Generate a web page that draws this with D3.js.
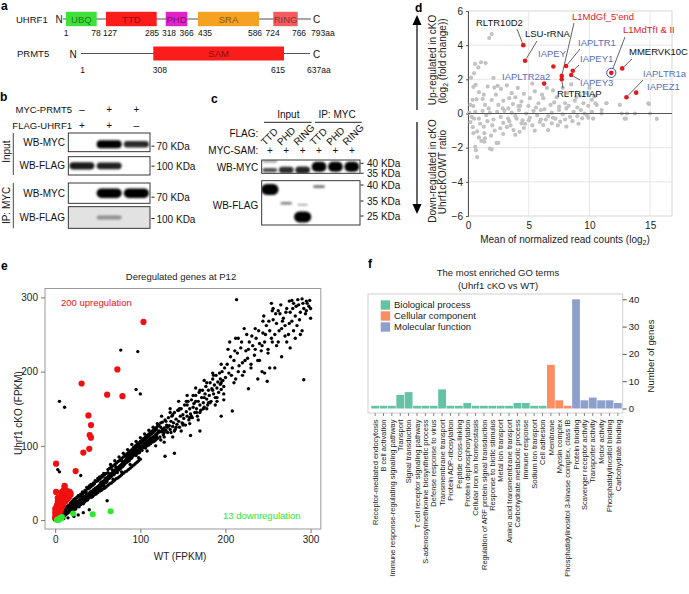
<!DOCTYPE html>
<html><head><meta charset="utf-8">
<script src="https://cdn.jsdelivr.net/npm/d3@7"></script>
<style>body{margin:0;background:#fff}</style>
</head><body>
<script>
// ---------------- DATA ----------------
// Panel a
const uhrf1Names = ["UBQ","TTD","PHD","SRA","RING"];
const uhrf1Start = [1,127,318,435,724];
const uhrf1End = [78,285,366,586,766];
const uhrf1Length = 793;
const uhrf1Ticks = [1,78,127,285,318,366,435,586,724,766,793];
const prmt5Names = ["SAM"];
const prmt5Start = [308];
const prmt5End = [615];
const prmt5Length = 637;
const prmt5Ticks = [1,308,615,637];

// Panel b
const bMycPRMT5 = ["\u2013","+","+"];
const bFlagUHRF1 = ["+","+","\u2013"];
const bBlots = ["WB-MYC","WB-FLAG","WB-MYC","WB-FLAG"];
const bMarkers = ["70 KDa","100 KDa","70 KDa","100 KDa"];
const bBand = [[0,1,0.75],[0.85,0.8,0],[0,1,1],[0,0.35,0]];

// Panel c
const cFlag = ["TTD","PHD","RING","TTD","PHD","RING"];
const cMycSam = ["+","+","+","+","+","+"];
const cMarkersMyc = [40,35];
const cMarkersFlag = [40,35,25];
const cMycBands = [[0,36.6,0.55],[0,41,0.2],[1,36.6,0.75],[2,36.6,0.8],[3,38.3,1],[4,38.3,1],[5,38.3,1]];
const cFlagBands = [[0,38.6,1],[1,33.5,0.3],[2,24.4,1],[2,32.5,0.15],[3,39.5,0.35]];

// Panel d
const dGrey = [[1.95,4.65],[1.75,4.42],[1.07,3.0],[0.58,2.9],[1.45,2.95],[0.85,2.7],[0.5,2.35],[0.25,2.1],[2.1,2.08],[0.63,1.68],[0.44,1.55],[1.62,1.58],[2.17,1.52],[2.45,1.62],[2.72,1.44],[0.38,0.8],[0.71,0.83],[1.21,0.85],[1.95,0.79],[2.91,0.74],[3.6,1.19],[2.86,0.3],[3.32,0.3],[4.15,0.44],[1.4,0.5],[4.97,0.44],[0.44,0.44],
[0.9,1.25],[1.3,1.1],[3.2,1.65],[4.1,1.5],[3.9,0.95],[4.6,1.15],[5.5,1.3],[6.2,0.9],[6.5,1.5],[5.3,1.75],[7.0,1.35],[7.3,0.95],[7.8,1.5],[8.2,1.2],[8.8,0.75],[9.2,1.05],[9.5,0.6],[6.8,0.5],[5.8,0.6],[10.2,0.8],[10.5,0.6],[11.4,0.6],[14.9,0.55],[9.9,0.45],[8.5,1.7],[7.5,0.4],[6.0,0.2],[5.1,0.9],[4.4,0.7],[3.7,0.55],[2.3,1.1],[1.7,0.3],[0.2,0.5],[10.0,1.5],[9.0,0.35],[8.0,0.6],[11.0,0.2],
[0.1,0.05],[0.3,-0.2],[0.6,0.1],[0.9,-0.3],[1.2,0.15],[1.5,-0.1],[1.8,0.05],[2.1,-0.35],[2.4,0.1],[2.7,-0.2],[3.0,0.15],[3.3,-0.3],[3.6,0.05],[3.9,-0.15],[4.2,0.2],[4.5,-0.4],[4.8,0.0],[5.1,-0.25],[5.4,0.15],[5.7,-0.1],[6.0,-0.35],[6.3,0.25],[6.6,-0.15],[6.9,0.05],[7.2,-0.3],[7.5,0.2],[7.8,-0.05],[8.1,0.3],[8.4,-0.2],[8.7,0.1],[9.0,-0.15],[9.3,0.2],[9.6,0.0],[9.9,-0.25],[10.2,0.1],
[0.45,-1.15],[0.75,-1.05],[0.6,-1.95],[0.65,-2.15],[0.75,-2.55],[1.3,-0.77],[1.35,-1.15],[1.4,-1.45],[1.35,-1.65],[1.8,-2.05],[1.95,-2.1],[2.35,-1.72],[2.5,-1.72],[2.65,-0.87],[3.2,-0.8],[3.75,-0.97],[3.9,-1.25],[4.25,-1.07],[4.4,-0.58],[6.2,-0.68],[6.6,-0.97],[6.9,-0.58],[8.1,-0.77],[7.6,-0.48],[9.4,-0.28],[9.8,-0.1],[10.3,-0.3],
[12.66,0],[13.1,0],[13.75,0],[15.0,0],[15.55,-0.32],[12.9,-0.3],[14.85,0.6],[10.6,0.5],[11.0,0],[11.4,0.6],
[0.2,-0.5],[1.0,-0.6],[1.6,-0.45],[2.0,-0.7],[2.9,-0.55],[3.4,-0.45],[4.0,-0.3],[4.7,-0.6],[5.0,-0.4],[5.3,-0.7],[5.9,-0.5],[6.4,-0.35],[7.0,-0.25],[7.4,-0.7],[8.0,-0.35],[8.6,-0.45],[9.1,-0.6],[0.4,-0.8],[1.9,-1.3],[2.2,-1.0],[2.9,-1.2],[3.5,-0.7],[4.6,-0.85],[5.5,-1.0],[0.9,-1.4],[1.1,-1.6],[0.5,-0.3],
[4.3,0.45],[5.6,0.35],[7.1,0.65],[8.3,0.45],[8.9,0.95],[9.7,1.2],[10.4,1.0],[6.1,1.1],[3.4,0.9],[2.5,0.5],[12.5,0.5],[13.0,-0.3]];
const hlNames = ["RLTR10D2","LSU-rRNA","IAPEY","IAPLTR2a2","L1MdGf_5'end","RLTR1IAP","IAPLTR1","IAPEY1","IAPEY3","L1MdTfI & II","MMERVK10C","IAPLTR1a","IAPEZ1"];
const hlX = [4.55,4.7,7.03,6.27,7.72,7.72,8.08,8.63,8.5,11.8,12.7,13.05,13.85];
const hlY = [4.0,3.09,2.75,1.75,2.2,2.0,2.78,2.5,2.25,2.38,2.64,0.95,1.22];
const hlFamily = ["other","other","IAP","IAP","L1","other","IAP","IAP","IAP","L1","other","IAP","IAP"];
const dYTicks = [-6,-4,-2,0,2,4,6];
const dXTicks = [0,5,10,15];

// Panel e  (WT FPKM, Uhrf1 cKO FPKM)
const eBlack = [[0,0],[1,2],[1,0],[2,1],[2,4],[3,2],[3,5],[4,1],[4,3],[5,5],[5,2],[6,6],[6,4],[7,3],[7,8],[8,6],[8,9],[9,5],[9,7],[10,8],[10,11],[11,9],[11,6],[12,10],[12,13],[13,11],[13,8],[14,12],[14,15],[15,13],[15,10],[16,14],[16,17],[17,12],[17,15],[18,16],[18,19],[19,14],[19,17],[20,18],[20,15],[3,9],[5,11],[7,12],[2,7],[4,8],[6,10],[9,13],[11,15],[13,17],[15,19],[10,4],[12,7],[14,9],[16,11],[18,13],[20,22],[1,5],[8,3],[0,3],
[21,17],[21,20],[22,19],[22,23],[23,18],[23,21],[24,22],[24,25],[25,20],[25,23],[26,24],[26,21],[27,25],[27,22],[28,26],[28,23],[29,27],[29,24],[30,28],[30,25],[31,26],[31,29],[32,27],[32,30],[33,28],[33,31],[34,29],[34,32],[35,30],[35,27],[36,33],[36,30],[37,31],[37,34],[38,32],[38,35],[39,33],[39,30],[40,36],[40,34],[41,35],[41,38],[42,36],[42,33],[43,39],[43,37],[44,38],[44,35],[45,41],[45,39],[46,40],[46,37],[47,43],[47,41],[48,42],[48,38],[49,44],[49,41],[50,45],[50,42],[51,46],[51,43],[52,47],[52,44],[53,49],[53,45],[54,48],[54,51],[55,50],[55,46],[56,52],[56,49],[57,51],[57,47],[58,54],[58,50],[59,53],[59,56],[60,55],[60,51],[25,30],[30,35],[35,40],[40,46],[45,50],[50,56],[55,60],[28,18],[33,22],[38,27],[43,31],[48,36],[53,40],[58,44],[22,28],[27,33],[32,38],[37,44],[42,48],[47,53],[52,58],[57,63],[24,15],[34,25],[44,33],[54,41],
[61,57],[61,53],[62,58],[62,64],[63,56],[63,60],[64,61],[64,57],[65,62],[65,58],[66,63],[66,59],[67,64],[67,68],[68,62],[68,66],[69,65],[69,61],[70,67],[70,63],[71,68],[71,72],[72,66],[72,70],[73,69],[73,64],[74,71],[74,67],[75,72],[75,68],[76,73],[76,69],[77,74],[77,70],[78,75],[78,80],[79,72],[79,77],[80,78],[80,73],[81,79],[81,75],[82,80],[82,76],[83,81],[83,86],[84,78],[84,83],[85,84],[85,79],[86,82],[86,88],[87,85],[87,80],[88,86],[88,90],[89,83],[89,87],[90,89],[90,84],[91,92],[91,86],[92,90],[92,95],[93,88],[93,93],[94,91],[94,97],[95,92],[95,87],[96,95],[96,99],[97,94],[97,90],[98,98],[98,102],[99,96],[99,91],[100,100],[100,95],[101,104],[101,97],[102,99],[102,94],[103,106],[103,101],[104,98],[104,103],[105,108],[105,100],[106,104],[106,97],[107,110],[107,102],[108,106],[108,100],[109,112],[109,104],[110,108],[110,101],[111,114],[111,106],[112,110],[112,103],[113,116],[113,107],[114,111],[114,105],[115,118],[115,109],[116,113],[116,106],[117,120],[117,111],[118,115],[118,108],[119,122],[119,112],[120,117],[120,110],[65,75],[70,80],[75,85],[80,90],[85,95],[90,102],[95,106],[100,111],[105,116],[110,121],[115,125],[120,130],[68,55],[78,65],[88,75],[98,84],[108,93],[118,100],
[121,118],[122,128],[123,112],[124,125],[125,119],[126,132],[127,115],[128,124],[129,135],[130,121],[131,128],[132,118],[133,138],[134,127],[135,122],[136,133],[137,140],[138,126],[139,131],[140,145],[141,122],[142,136],[143,129],[144,148],[145,133],[146,125],[147,140],[148,150],[149,131],[150,142],[151,137],[152,155],[153,128],[154,146],[155,140],[156,160],[157,135],[158,150],[159,143],[160,162],[161,138],[162,152],[163,157],[164,145],[165,168],[166,150],[167,140],[168,160],[169,172],[170,155],[171,148],[172,165],[173,175],[174,158],[175,152],[176,170],[177,180],[178,163],[179,155],[180,175],[181,168],[182,185],[183,160],[184,177],[185,190],[186,170],[187,182],[188,165],[189,195],[190,178],[191,186],[192,172],[193,198],[194,183],[195,176],[196,200],[197,188],[198,180],[199,205],[200,192],[135,150],[145,160],[155,168],[165,178],[175,188],[185,198],[195,210],[140,120],[150,130],[160,140],[170,145],[180,158],[190,165],
[202,210],[204,198],[206,220],[208,205],[210,215],[212,190],[214,225],[216,208],[218,232],[220,212],[222,200],[224,228],[226,218],[228,240],[230,210],[232,235],[234,222],[236,245],[238,215],[240,238],[242,228],[244,252],[246,240],[248,262],[250,230],[252,255],[254,245],[256,270],[258,250],[260,265],[262,240],[264,278],[266,258],[268,272],[270,262],[272,285],[274,250],[276,280],[278,268],[280,292],[282,275],[284,262],[286,290],[288,280],[290,298],[292,285],[294,278],[296,292],[298,288],[205,240],[215,245],[225,250],[235,258],[245,275],[255,282],[265,290],[275,295],[285,297],[210,185],[220,195],[230,205],[240,215],[250,225],[260,235],[270,248],[280,255],[290,255],[243,200],[246,198],[249,187],[300,272],[295,295],[278,296],[262,282],[256,285],[300,285],
[5,160],[11,152],[77,229],[97,227],[95,176],[213,297],[292,189],[208,147],[227,177],[129,86],[159,114],[61,26],[5,65],[3,68],[30,60],[140,90],[170,120],[195,140],[100,170],[36,37],[10,2],[15,3],[22,5],[27,7],[33,10],[40,14],
[6,9],[8,12],[10,14],[12,16],[14,18],[16,20],[18,23],[20,25],[22,26],[24,29],[26,30],[28,32],[30,33],[32,35],[34,37],[36,39],[38,42],[40,43],[42,45],[44,47],[46,49],[48,52],[50,53],[52,55],[54,57],[56,59],[58,61],[60,63],
[20,12],[22,14],[24,17],[26,18],[28,20],[30,21],[32,23],[34,24],[36,26],[38,28],[40,30],[42,31],[44,32],[46,34],[48,35],[50,37],[52,39],[54,40],[56,42],[58,43],[60,45],[62,47],[64,49],[66,50],[68,52],[70,54],[72,56],[74,57],[76,59],[78,61],[80,63],[82,65],[84,66],[86,68],[88,70],[90,72],[92,74],[94,76],[96,78],[98,80],[100,82],
[62,68],[64,70],[66,72],[68,73],[70,75],[72,77],[74,79],[76,81],[78,83],[80,85],[82,87],[84,89],[86,91],[88,93],[90,95],[92,98],[94,100],[96,102],[98,104],[100,106],[102,108],[104,110],[106,112],[108,114],[110,116],[112,118],[114,120],[116,122],[118,124],[120,126],[122,120],[124,131],[126,122],[128,118],[130,133],
[63,58],[67,61],[71,65],[75,70],[79,74],[83,78],[87,82],[91,87],[95,90],[99,94],[103,98],[107,103],[111,107],[115,111],[119,115],[123,119],[127,122],[131,126],
[124,108],[128,112],[132,125],[136,118],[138,142],[142,125],[146,150],[150,128],[154,160],[158,138],[162,168],[166,145],[170,175],[174,150],[178,185],[182,158],[186,195],[190,160],[194,190],[198,170],[125,140],[135,145],[145,148],[155,155],[165,160],[175,165],[185,175],[195,185],[128,105],[138,112],[148,120],[158,130],[168,135],[178,150],[188,155],[198,162],
[203,230],[207,195],[211,228],[215,200],[219,240],[223,215],[227,230],[231,248],[235,230],[239,255],[243,235],[247,250],[251,268],[255,240],[259,278],[263,255],[267,268],[271,280],[275,265],[279,285],[283,288],[287,270],[291,292],[295,282],[299,296],[238,190],[252,205],[266,220],[258,205],[272,240],[282,245],[288,250],[276,232],[244,268],[254,292],[222,258],[212,245]];
const eUp = [[0,2],[0,5],[1,8],[1,12],[2,15],[2,6],[3,10],[3,18],[4,14],[4,22],[5,9],[5,17],[5,26],[6,12],[6,20],[6,30],[7,15],[7,24],[7,33],[8,18],[8,27],[9,21],[9,30],[9,36],[10,24],[10,32],[11,27],[11,35],[12,29],[12,38],[13,31],[13,37],[14,33],[14,39],[15,35],[15,30],[16,37],[16,33],[17,38],[17,35],[18,36],[2,20],[3,25],[4,28],[1,16],[0,10],[0,15],[8,38],[10,40],[12,25],[14,28],[16,30],[18,34],[11,45],[6,18],[3,30],
[103.7,267],[73,203],[31,184],[61,169],[79,167],[39,141],[42,128],[40.5,114.5],[42,111],[40,96],[33,91],[24,66],[1,76],[11,46],[1,38],[16,38]];
const eDown = [[7,2],[21,9],[44,8],[65,12],[4,0],[2,0],[6,3],[8,4],[3,1]];
const eTicks = [0,100,200,300];

// Panel f
const goTerms = ["Receptor-mediated endocytosis","B cell activation","Immune response-regulating signaling pathway","Transport","Signal transduction","T cell receptor signaling pathway","S-adenosylmethionine biosynthetic process","Defense response to virus","Transmembrane transport","Protein ADP-ribosylation","Peptide cross-linking","Protein dephosphorylation","Cellular iron ion homeostasis","Regulation of ARF protein signal transduction","Response to biotic stimulus","Metal ion transport","Amino acid transmembrane transport","Carbohydrate metabolic process","Immune response","Sodium ion transport","Cell adhesion","Membrane","Myosin complex","Phosphatidylinositol 3-kinase complex, class IB","Protein binding","Scavenger receptor activity","Transporter activity","Motor activity","Phosphatidylinositol binding","Carbohydrate binding"];
const goCounts = [1,1,1,5,6,1,1,1,7,1,1,2,1,1,1,1,1,2,2,1,1,16,3,1,40,3,4,3,3,2];
const goType = ["BP","BP","BP","BP","BP","BP","BP","BP","BP","BP","BP","BP","BP","BP","BP","BP","BP","BP","BP","BP","BP","CC","CC","CC","MF","MF","MF","MF","MF","MF"];
const goTypeNames = {BP:"Biological process",CC:"Cellular component",MF:"Molecular function"};
const goTicks = [0,10,20,30,40];

// ---------------- STYLES ----------------
const FONT = '"Liberation Sans", Arial, Helvetica, sans-serif';
const domainColor = {UBQ:"#3ee03a",TTD:"#fb1c1c",PHD:"#e022c8",SRA:"#f5a122",RING:"#f25c5c",SAM:"#fb1c1c"};
const familyColor = {L1:"#e41a1c",IAP:"#5a6fb8",other:"#111"};
const goColor = {BP:"#66c2a5",CC:"#fc8d62",MF:"#8da0cb"};

const svg = d3.select("body").append("svg").attr("width",689).attr("height",594).style("font-family",FONT);
const defs = svg.append("defs");
defs.append("filter").attr("id","blur").attr("x","-50%").attr("y","-150%").attr("width","200%").attr("height","400%")
  .append("feGaussianBlur").attr("stdDeviation",1.0);

function T(p,x,y,s,size,anchor,fill,weight){
  return p.append("text").attr("x",x).attr("y",y).attr("font-size",size).attr("text-anchor",anchor||"start")
    .attr("fill",fill||"#111").attr("font-weight",weight||"normal").text(s);
}
function L(p,x1,y1,x2,y2,stroke,w){
  return p.append("line").attr("x1",x1).attr("y1",y1).attr("x2",x2).attr("y2",y2).attr("stroke",stroke||"#000").attr("stroke-width",w||1);
}

// ---------------- PANEL A ----------------
(function(){
  const g = svg.append("g");
  T(g,1,10,"a",12,"start","#000","bold");
  const xU = d3.scaleLinear().domain(uhrf1Ticks).range([66,96.7,106,156.7,165.7,187.3,198,259,273.3,297.7,311]);
  const rowU = 19, hD = 14.4;
  T(g,16,22.5,"UHRF1",9.5);
  T(g,59,23,"N",10,"middle");
  L(g,63,rowU,xU(uhrf1Length),rowU,"#8a8a8a",1.3);
  T(g,xU(uhrf1Length)+2,23,"C",10);
  uhrf1Names.forEach((n,i)=>{
    const x0=xU(uhrf1Start[i]), x1=xU(uhrf1End[i]);
    g.append("rect").attr("x",x0).attr("y",rowU-hD/2).attr("width",x1-x0).attr("height",hD).attr("fill",domainColor[n]);
    T(g,(x0+x1)/2,rowU+3.5,n,9.5,"middle","rgba(0,0,0,0.5)");
  });
  const uDx=[0,-0.7,4,-4.7,3.3,-0.6,7,-4,-0.6,1.3];
  uhrf1Ticks.forEach((t,i)=>{
    if(i<uhrf1Ticks.length-1) T(g,xU(t)+uDx[i],36,String(t),8.5,"middle");
    else T(g,xU(t),36,t+"aa",8.5);
  });
  const xP = d3.scaleLinear().domain(prmt5Ticks).range([81,153.3,284,310]);
  const rowP = 53.5;
  T(g,17,57,"PRMT5",9.5);
  T(g,73,57.5,"N",10,"middle");
  L(g,xP(1),rowP,xP(prmt5Length),rowP,"#555",1.1);
  T(g,xP(prmt5Length)+3,57.5,"C",10);
  prmt5Names.forEach((n,i)=>{
    const x0=xP(prmt5Start[i]), x1=xP(prmt5End[i]);
    g.append("rect").attr("x",x0).attr("y",rowP-7).attr("width",x1-x0).attr("height",14).attr("fill",domainColor[n]);
    T(g,(x0+x1)/2,rowP+3.5,n,9.5,"middle","rgba(0,0,0,0.5)");
  });
  const pDx=[1.7,6.5,-6,0];
  prmt5Ticks.forEach((t,i)=>{
    if(i<prmt5Ticks.length-1) T(g,xP(t)+pDx[i],73,String(t),8.5,"middle");
    else T(g,xP(t)-3,73,t+"aa",8.5);
  });
})();

// ---------------- PANEL B ----------------
(function(){
  const g = svg.append("g");
  T(g,0,101,"b",12,"start","#000","bold");
  const xb = d3.scaleBand().domain([0,1,2]).range([68.3,150]);
  const lw = xb.bandwidth();
  T(g,72,113,"MYC-PRMT5",9.5,"end");
  T(g,72,128.5,"FLAG-UHRF1",9.5,"end");
  bMycPRMT5.forEach((s,i)=>T(g,xb(i)+lw/2,113,s,10,"middle"));
  bFlagUHRF1.forEach((s,i)=>T(g,xb(i)+lw/2,128.5,s,10,"middle"));
  const boxes=[[133,151.7],[156.7,175],[183,203.3],[206.7,228.3]];
  const markY=[146.7,166.7,197.7,219];
  boxes.forEach((b,k)=>{
    const id="clipb"+k;
    defs.append("clipPath").attr("id",id).append("rect").attr("x",68.3).attr("y",b[0]).attr("width",150-68.3).attr("height",b[1]-b[0]);
    g.append("rect").attr("x",68.3).attr("y",b[0]).attr("width",150-68.3).attr("height",b[1]-b[0])
      .attr("fill",k===3?"#e2e2e2":"#fff");
    const gb=g.append("g").attr("clip-path","url(#"+id+")");
    const cy=(b[0]+b[1])/2+(k===0?2:0);
    bBand[k].forEach((s,i)=>{
      if(s<=0) return;
      const h=(k===2?3.5:2)+6*s;
      gb.append("rect").attr("x",xb(i)+lw*0.04).attr("width",lw*0.92).attr("y",cy-h/2).attr("height",h)
        .attr("rx",h/2).attr("fill",k===3?"#555":"#000").attr("opacity",0.35+0.65*s).attr("filter","url(#blur)");
    });
    g.append("rect").attr("x",68.3).attr("y",b[0]).attr("width",150-68.3).attr("height",b[1]-b[0])
      .attr("fill","none").attr("stroke","#222").attr("stroke-width",0.9);
    T(g,65,(b[0]+b[1])/2+3.5,bBlots[k],10,"end");
    L(g,151.5,markY[k]-0.5,154.5,markY[k]-0.5,"#222",1);
    T(g,156.5,markY[k]+3.5,bMarkers[k],10);
  });
  L(g,13.3,133,13.3,175,"#333",0.9);
  L(g,13.3,183,13.3,228.3,"#333",0.9);
  g.append("text").attr("transform","translate(10,151.7) rotate(-90)").attr("text-anchor","middle").attr("font-size",10).attr("fill","#111").text("Input");
  g.append("text").attr("transform","translate(10,205.5) rotate(-90)").attr("text-anchor","middle").attr("font-size",10).attr("fill","#111").text("IP: MYC");
})();

// ---------------- PANEL C ----------------
(function(){
  const g = svg.append("g");
  T(g,211,103,"c",12,"start","#000","bold");
  const xc = d3.scaleBand().domain(d3.range(6)).range([261.7,360]);
  const lw = xc.bandwidth();
  T(g,288.3,118,"Input",10,"middle");
  L(g,264,122.3,311.7,122.3,"#222",1);
  T(g,337,118,"IP: MYC",10,"middle");
  L(g,315,122.3,361.7,122.3,"#222",1);
  T(g,258.3,137,"FLAG:",10,"end");
  cFlag.forEach((s,i)=>{
    g.append("text").attr("transform",`translate(${xc(i)+lw/2-5},146) rotate(-45)`).attr("font-size",10).attr("fill","#111").text(s);
  });
  T(g,258.3,154,"MYC-SAM:",10,"end");
  cMycSam.forEach((s,i)=>T(g,xc(i)+lw/2,154,s,10,"middle"));
  const yM = d3.scaleLinear().domain(cMarkersMyc).range([163.3,173.3]);
  const yF = d3.scaleLinear().domain([40,35,25]).range([185,201,216]);
  const boxes=[[160,173.3],[180.7,225]];
  [cMycBands,cFlagBands].forEach((bands,k)=>{
    const b=boxes[k], id="clipc"+k, ys = k===0?yM:yF;
    defs.append("clipPath").attr("id",id).append("rect").attr("x",261.7).attr("y",b[0]).attr("width",360-261.7).attr("height",b[1]-b[0]);
    g.append("rect").attr("x",261.7).attr("y",b[0]).attr("width",360-261.7).attr("height",b[1]-b[0]).attr("fill","#fff");
    const gb=g.append("g").attr("clip-path","url(#"+id+")");
    bands.forEach(d=>{
      const [lane,kda,s]=d;
      const h = k===0 ? 2+8*s*s : 1.5+9.5*s*s;
      const w = k===0 ? lw*0.9 : lw*(0.55+0.5*s);
      gb.append("rect").attr("x",xc(lane)+lw/2-w/2).attr("width",w).attr("y",ys(kda)-h/2).attr("height",h)
        .attr("rx",Math.min(h/2,w/2)).attr("fill","#000").attr("opacity",0.3+0.7*s).attr("filter","url(#blur)");
    });
    g.append("rect").attr("x",261.7).attr("y",b[0]).attr("width",360-261.7).attr("height",b[1]-b[0])
      .attr("fill","none").attr("stroke","#222").attr("stroke-width",0.9);
  });
  T(g,258.3,170.5,"WB-MYC",10,"end");
  T(g,258.3,208.5,"WB-FLAG",10,"end");
  cMarkersMyc.forEach(m=>{ L(g,360.5,yM(m),363.5,yM(m),"#222",1); T(g,367,yM(m)+3.5,m+" KDa",10); });
  cMarkersFlag.forEach(m=>{ L(g,360.5,yF(m),363.5,yF(m),"#222",1); T(g,367,yF(m)+3.5,m+" KDa",10); });
})();

// ---------------- PANEL D ----------------
(function(){
  const g = svg.append("g");
  const x = d3.scaleLinear().domain([0,16.8]).range([468,672]);
  const y = d3.scaleLinear().domain([-6,6]).range([216,11]);
  T(g,415,11.5,"d",12,"start","#000","bold");
  g.append("rect").attr("x",x(0)).attr("y",y(6)).attr("width",x(16.8)-x(0)).attr("height",y(-6)-y(6)).attr("fill","none").attr("stroke","#d8d8d8");
  dXTicks.filter(v=>v>0).forEach(v=>L(g,x(v),y(6),x(v),y(-6),"#e4e4e4",0.9));
  dYTicks.filter(v=>v!==0&&Math.abs(v)<6).forEach(v=>L(g,x(0),y(v),x(16.8),y(v),"#e4e4e4",0.9));
  const ay = g.append("g").attr("transform",`translate(${x(0)},0)`).call(d3.axisLeft(y).tickValues(dYTicks).tickSize(2).tickFormat(d=>d<0?"\u2212"+(-d):d));
  ay.select(".domain").attr("stroke","#555");
  ay.selectAll("line").attr("stroke","#555");
  ay.selectAll("text").attr("font-size",10).attr("font-family",FONT).attr("fill","#222");
  const ax = g.append("g").attr("transform",`translate(0,${y(-6)})`).call(d3.axisBottom(x).tickValues(dXTicks).tickSize(0).tickPadding(6));
  ax.select(".domain").remove();
  ax.selectAll("text").attr("font-size",10).attr("font-family",FONT).attr("fill","#222");
  g.append("g").selectAll("circle").data(dGrey).join("circle").attr("cx",d=>x(d[0])).attr("cy",d=>y(d[1])).attr("r",2.1).attr("fill","#c2c2c2");
  L(g,x(0),y(0),x(16.8),y(0),"#555",1.1);
  const lab = {
    "RLTR10D2":[476,26,517,29], "LSU-rRNA":[525,37,537,41], "L1MdGf_5'end":[572,20,574,23],
    "IAPLTR1":[578,46,580,49], "IAPEY":[538,57,null,null], "IAPEY1":[580,62,579,65],
    "IAPEY3":[580,86,580,80], "IAPLTR2a2":[502,80,null,null], "RLTR1IAP":[557,97,563,88],
    "L1MdTfI & II":[623,33,625,37], "MMERVK10C":[629,55,632,59], "IAPLTR1a":[643,77,643,80], "IAPEZ1":[647,90,null,null]
  };
  hlNames.forEach((n,i)=>{
    const px=x(hlX[i]), py=y(hlY[i]), p=lab[n];
    if(p[2]!==null){
      const dx=p[2]-px, dy=p[3]-py, len=Math.hypot(dx,dy), sh = n==="L1MdTfI & II"?5:2.5;
      L(g,p[2],p[3],px+dx/len*sh,py+dy/len*sh,"#222",0.7);
    }
  });
  hlNames.forEach((n,i)=>{
    const px=x(hlX[i]), py=y(hlY[i]), p=lab[n];
    g.append("circle").attr("cx",px).attr("cy",py).attr("r",2.3).attr("fill","#e31a1c");
    if(n==="L1MdTfI & II") g.append("circle").attr("cx",px).attr("cy",py).attr("r",4.6).attr("fill","none").attr("stroke","#3d4fa8").attr("stroke-width",1);
    T(g,p[0],p[1],n,9.5,"start",familyColor[hlFamily[i]]);
  });
  const xt = g.append("text").attr("x",565).attr("y",243).attr("text-anchor","middle").attr("font-size",10).attr("fill","#222");
  xt.append("tspan").text("Mean of normalized read counts (log");
  xt.append("tspan").attr("font-size",7).attr("dy",2).text("2");
  xt.append("tspan").attr("dy",-2).text(")");
  g.append("text").attr("transform","translate(436,60) rotate(-90)").attr("text-anchor","middle").attr("font-size",10).attr("fill","#222").text("Up-regulated in cKO");
  const t2 = g.append("text").attr("transform","translate(446,61) rotate(-90)").attr("text-anchor","middle").attr("font-size",10).attr("fill","#222");
  t2.append("tspan").text("(log"); t2.append("tspan").attr("font-size",7).attr("dy",2).text("2"); t2.append("tspan").attr("dy",-2).text(" (fold change))");
  g.append("text").attr("transform","translate(436,171) rotate(-90)").attr("text-anchor","middle").attr("font-size",10).attr("fill","#222").text("Down-regulated in cKO");
  g.append("text").attr("transform","translate(446,172) rotate(-90)").attr("text-anchor","middle").attr("font-size",10).attr("fill","#222").text("Uhrf1cKO/WT ratio");
  L(g,417,110,417,24,"#000",1.2);
  g.append("path").attr("d","M412.5,25 L421.5,25 L417,15 Z").attr("fill","#000");
  L(g,417,122,417,205,"#000",1.2);
  g.append("path").attr("d","M412.5,204 L421.5,204 L417,214 Z").attr("fill","#000");
})();

// ---------------- PANEL E ----------------
(function(){
  const g = svg.append("g");
  const x = d3.scaleLinear().domain([-12,312]).range([45,320.8]);
  const y = d3.scaleLinear().domain([-12,312]).range([529,288.5]);
  T(g,1,270,"e",12,"start","#000","bold");
  T(g,181,280,"Deregulated genes at P12",9.5,"middle","#222");
  g.append("g").selectAll("circle").data(eBlack).join("circle").attr("cx",d=>x(d[0])).attr("cy",d=>y(d[1])).attr("r",1.7).attr("fill","#000");
  g.append("g").selectAll("circle").data(eUp).join("circle").attr("cx",d=>x(d[0])).attr("cy",d=>y(d[1])).attr("r",3.1).attr("fill","#f01010");
  g.append("g").selectAll("circle").data(eDown).join("circle").attr("cx",d=>x(d[0])).attr("cy",d=>y(d[1])).attr("r",3).attr("fill","#2ee82e");
  g.append("rect").attr("x",45).attr("y",288.5).attr("width",320.8-45).attr("height",529-288.5).attr("fill","none").attr("stroke","#999").attr("stroke-width",1);
  const ax = g.append("g").attr("transform","translate(0,529)").call(d3.axisBottom(x).tickValues(eTicks).tickSize(4).tickPadding(3));
  ax.select(".domain").remove();
  ax.selectAll("line").attr("stroke","#777");
  ax.selectAll("text").attr("font-size",10).attr("font-family",FONT).attr("fill","#222");
  const ay = g.append("g").attr("transform","translate(45,0)").call(d3.axisLeft(y).tickValues(eTicks).tickSize(4).tickPadding(3));
  ay.select(".domain").remove();
  ay.selectAll("line").attr("stroke","#777");
  ay.selectAll("text").attr("font-size",10).attr("font-family",FONT).attr("fill","#222");
  T(g,180,560,"WT (FPKM)",10,"middle","#222");
  g.append("text").attr("transform","translate(21.5,413) rotate(-90)").attr("text-anchor","middle").attr("font-size",10).attr("fill","#222").text("Uhrf1 cKO (FPKM)");
  T(g,61,306,"200 upregulation",9.5,"start","#f01010");
  T(g,223,519,"13 downregulation",9.5,"start","#2ee82e");
})();

// ---------------- PANEL F ----------------
(function(){
  const g = svg.append("g");
  T(g,368,268,"f",12,"start","#000","bold");
  T(g,498,276,"The most enriched GO terms",9.5,"middle","#222");
  T(g,498,289,"(Uhrf1 cKO vs WT)",9.5,"middle","#222");
  const x = d3.scaleBand().domain(goTerms).range([371,622]).paddingInner(0.07).paddingOuter(0.03);
  const y = d3.scaleLinear().domain([0,40]).range([408.5,299.3]);
  g.append("rect").attr("x",368).attr("y",294).attr("width",622.7-368).attr("height",413-294).attr("fill","none").attr("stroke","#d0d0d0");
  g.append("g").selectAll("rect").data(goTerms).join("rect")
    .attr("x",d=>x(d)).attr("width",x.bandwidth())
    .attr("y",(d,i)=>y(goCounts[i])).attr("height",(d,i)=>y(0)-y(goCounts[i]))
    .attr("fill",(d,i)=>goColor[goType[i]]);
  goTerms.forEach(t=>L(g,x(t)+x.bandwidth()/2,413,x(t)+x.bandwidth()/2,416,"#555",0.7));
  goTerms.forEach(t=>{
    g.append("text").attr("transform",`translate(${x(t)+x.bandwidth()/2+2.7},419.5) rotate(-90)`)
      .attr("text-anchor","end").attr("font-size",7.5).attr("fill","#222").text(t);
  });
  const ar = g.append("g").attr("transform","translate(622.7,0)").call(d3.axisRight(y).tickValues(goTicks).tickSize(4).tickPadding(2));
  ar.select(".domain").remove();
  ar.selectAll("line").attr("stroke","#555");
  ar.selectAll("text").attr("font-size",9.5).attr("font-family",FONT).attr("fill","#222");
  g.append("text").attr("transform","translate(653.5,356) rotate(-90)").attr("text-anchor","middle").attr("font-size",9.5).attr("fill","#222").text("Number of genes");
  ["BP","CC","MF"].forEach((k,i)=>{
    const cy = 305+11*i;
    g.append("rect").attr("x",380.7).attr("y",cy-4.7).attr("width",9.4).attr("height",9.4).attr("fill",goColor[k]);
    T(g,394,cy+3.4,goTypeNames[k],9.5,"start","#222");
  });
})();
</script>
</body></html>
